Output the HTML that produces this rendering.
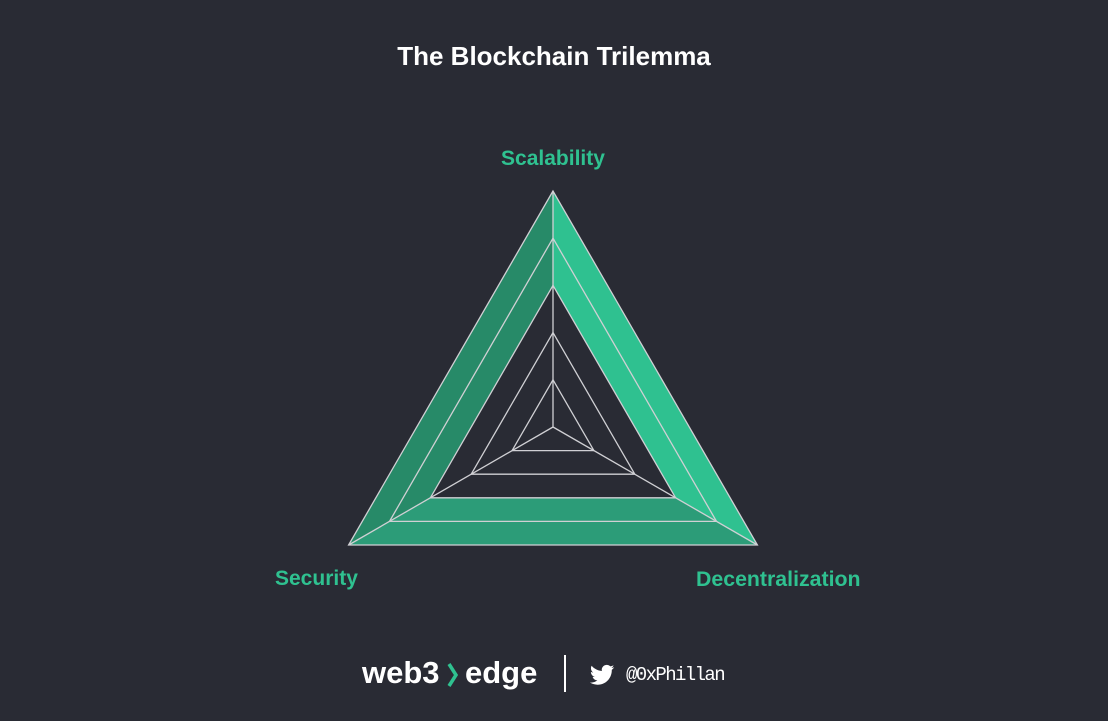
<!DOCTYPE html>
<html><head><meta charset="utf-8"><style>
html,body{margin:0;padding:0;background:#292b34;}
body{width:1108px;height:721px;position:relative;overflow:hidden;font-family:"Liberation Sans",sans-serif;}
.t{position:absolute;font-weight:bold;white-space:nowrap;}
</style></head><body>
<div class="t" style="left:0;width:1108px;text-align:center;top:41px;font-size:26px;color:#fff;">The Blockchain Trilemma</div>
<div class="t" style="left:453px;width:200px;text-align:center;top:147px;font-size:21px;color:#2fc190;">Scalability</div>
<div class="t" style="left:275px;top:567px;font-size:21px;color:#2fc190;">Security</div>
<div class="t" style="left:696px;top:567px;font-size:21.3px;color:#2fc190;">Decentralization</div>
<svg width="1108" height="721" style="position:absolute;left:0;top:0">
<g stroke="none">
<polygon points="553,191 553,285.4 430.4,497.8 348.6,545" fill="#278a68"/>
<polygon points="553,191 553,285.4 675.6,497.8 757.4,545" fill="#2fc190"/>
<polygon points="348.6,545 430.4,497.8 675.6,497.8 757.4,545" fill="#2c9c78"/>
</g>
<g fill="none" stroke="#d0d0d4" stroke-width="1.3">
<polygon points="553,191 348.6,545 757.4,545"/>
<polygon points="553,238.2 389.5,521.4 716.5,521.4"/>
<polygon points="553,285.4 430.4,497.8 675.6,497.8"/>
<polygon points="553,332.6 471.2,474.2 634.8,474.2"/>
<polygon points="553,379.8 512.1,450.6 593.9,450.6"/>
<line x1="553" y1="427" x2="553" y2="191"/>
<line x1="553" y1="427" x2="348.6" y2="545"/>
<line x1="553" y1="427" x2="757.4" y2="545"/>
</g>
<line x1="565" y1="655" x2="565" y2="692" stroke="#fff" stroke-width="2"/>
<polyline points="449,664 456,675 449,686" fill="none" stroke="#2fc190" stroke-width="3.5"/>
<g transform="translate(590,665) scale(1.1) translate(-590,-665)">
<path d="M612 667c-.8.4-1.7.6-2.6.7.9-.6 1.6-1.4 2-2.5-.9.5-1.9.9-2.9 1.1-1.7-1.8-4.6-1.9-6.4-.2-1.2 1.1-1.7 2.7-1.3 4.3-3.6-.2-7-1.9-9.3-4.7-1.2 2.1-.6 4.7 1.4 6.1-.7 0-1.4-.2-2.1-.6 0 2.200 1.600 4.100 3.700 4.500-.7.2-1.4.2-2.1.1.6 1.9 2.3 3.1 4.3 3.2-1.9 1.5-4.3 2.2-6.7 1.9 2.1 1.3 4.500 2 6.900 2 8.300 0 12.900-6.900 12.900-12.900v-.6c.9-.6 1.600-1.400 2.200-2.300z" fill="#fff"/>
</g>
</svg>
<div class="t" style="left:362px;top:655px;font-size:31px;color:#fff;">web3</div>
<div class="t" style="left:465px;top:655px;font-size:31px;color:#fff;">edge</div>
<div class="t" style="left:626px;top:664px;font-size:19px;color:#fff;font-weight:normal;font-family:'Liberation Mono',monospace;letter-spacing:-1.6px;">@0xPhillan</div>
</body></html>
